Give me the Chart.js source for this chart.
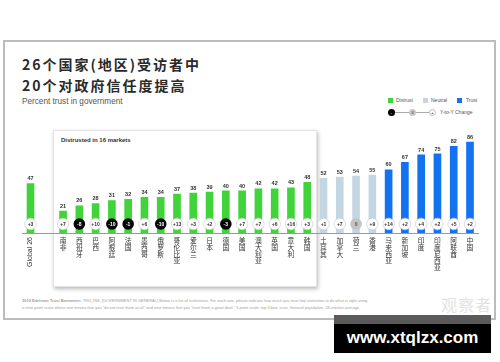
<!DOCTYPE html>
<html><head><meta charset="utf-8">
<script src="https://cdn.jsdelivr.net/npm/chart.js@4"></script>
<style>
html,body{margin:0;padding:0;background:#fff;}
body{width:500px;height:362px;position:relative;overflow:hidden;font-family:"Liberation Sans",Arial,sans-serif;}
.frame{position:absolute;left:3px;top:40px;width:489px;height:276px;border:2px solid #bcbcbc;}
.t1,.t2{position:absolute;left:22px;font-family:"Noto Sans CJK SC";font-weight:bold;font-size:14px;letter-spacing:2px;color:#2a2a2a;line-height:20px;white-space:nowrap;}
.t1{top:54px}.t2{top:75px}
.sub{position:absolute;left:22px;top:96px;font-size:8.2px;color:#555;line-height:11px;white-space:nowrap;}
.inset{position:absolute;left:53px;top:130px;width:262px;height:155px;background:#fff;border:1px solid #e4e4e4;box-shadow:1px 2px 4px rgba(0,0,0,0.28);}
.inset .h{position:absolute;left:7px;top:6px;font-size:6px;font-weight:bold;color:#333;white-space:nowrap;}
canvas{position:absolute;left:0;top:0;}
.small{position:absolute;transform:scale(0.5);transform-origin:0 0;white-space:nowrap;}
.lg{font-size:10px;color:#555;line-height:12px;}
.sq{position:absolute;width:5px;height:5px;}
.circ{position:absolute;width:7px;height:7px;border-radius:50%;box-sizing:border-box;}
.circ span{position:absolute;left:0;top:0;width:14px;height:14px;line-height:14px;text-align:center;font-size:8px;font-weight:bold;transform:scale(0.5);transform-origin:0 0;}
.ln{position:absolute;height:1px;background:#aaa;top:112px;}
.foot{font-size:8px;color:#a0a0a0;line-height:10px;}
.wm{position:absolute;left:441px;top:293px;font-family:"Noto Sans CJK SC";font-size:16px;color:#e2e2e2;letter-spacing:1px;line-height:22px;}
.bk1{position:absolute;left:334px;top:315px;width:157px;height:9px;background:#5a5a5a;}
.bk2{position:absolute;left:334px;top:324px;width:157px;height:29px;background:#000;color:#fff;font-weight:bold;font-size:17px;line-height:27px;text-align:center;}
</style></head>
<body>
<div class="frame"></div>
<div class="t1">26个国家(地区)受访者中</div>
<div class="t2">20个对政府信任度提高</div>
<div class="sub">Percent trust in government</div>

<div class="sq" style="left:388px;top:97.5px;background:#40d33a"></div>
<div class="small lg" style="left:396px;top:97px">Distrust</div>
<div class="sq" style="left:423px;top:97.5px;background:#c3d6e1"></div>
<div class="small lg" style="left:431px;top:97px">Neutral</div>
<div class="sq" style="left:457px;top:97.5px;background:#1272f2"></div>
<div class="small lg" style="left:466px;top:97px">Trust</div>

<div class="ln" style="left:395px;width:14px"></div>
<div class="ln" style="left:415px;width:14px"></div>
<div class="circ" style="left:388px;top:108.5px;background:#000"><span style="color:#fff">-</span></div>
<div class="circ" style="left:408.5px;top:108.5px;background:#c8c8c8"><span style="color:#666">0</span></div>
<div class="circ" style="left:428.5px;top:108.5px;background:#fff;border:0.6px solid #bbb"><span style="color:#444;left:-0.6px;top:-0.6px">+</span></div>
<div class="small lg" style="left:440px;top:109px">Y-to-Y Change</div>

<div class="inset"><div class="h">Distrusted in 16 markets</div></div>

<div class="small foot" style="left:22px;top:298px"><b>2019 Edelman Trust Barometer.</b> TRU_INS. [GOVERNMENT IN GENERAL] Below is a list of institutions. For each one, please indicate how much you trust that institution to do what is right using</div>
<div class="small foot" style="left:22px;top:305px">a nine-point scale where one means that you “do not trust them at all” and nine means that you “trust them a great deal.” 9-point scale; top 4 box, trust. General population, 26-market average.</div>
<div class="wm">观察者</div>

<canvas id="c" width="500" height="362"></canvas>

<div class="bk1"></div>
<div class="bk2">www.xtqlzx.com</div>

<script>
const categories = ['Global 26', '', '南非', '西班牙', '巴西', '阿根廷', '法国', '墨西哥', '俄罗斯', '哥伦比亚', '爱尔兰', '日本', '德国', '美国', '澳大利亚', '英国', '意大利', '韩国', '土耳其', '加拿大', '荷兰', '香港', '马来西亚', '新加坡', '印度', '印度尼西亚', '阿联酋', '中国'];
const trustValues = [47, null, 21, 26, 28, 31, 32, 34, 34, 37, 38, 39, 40, 40, 42, 42, 43, 48, 52, 53, 54, 55, 60, 67, 74, 75, 82, 86];
const yoyChange = [3, null, 7, -8, 10, -10, -1, 6, -10, 13, 3, 2, -3, 7, 7, 6, 16, 3, 1, 7, 0, 9, 14, 2, 4, 2, 5, 2];

const COLORS = {distrust:'#40d33a', neutral:'#c3d6e1', trust:'#1272f2'};
function barColor(v){ if (v == null) return 'rgba(0,0,0,0)'; return v < 50 ? COLORS.distrust : (v < 60 ? COLORS.neutral : COLORS.trust); }
const stackedLabels = categories.map((s, i) => i < 2 ? '' : Array.from(s));

const overlay = {
  id: 'overlay',
  afterDatasetsDraw(chart){
    const ctx = chart.ctx;
    const meta = chart.getDatasetMeta(0);
    meta.data.forEach((bar, i) => {
      const v = trustValues[i];
      if (v == null) return;
      ctx.save();
      ctx.font = 'bold 5.5px "Liberation Sans"';
      ctx.fillStyle = '#333';
      ctx.textAlign = 'center';
      ctx.textBaseline = 'alphabetic';
      ctx.fillText(String(v), bar.x, bar.y - 3);
      const c = yoyChange[i];
      const cy = bar.base - 9;
      ctx.beginPath();
      ctx.arc(bar.x, cy, 5.8, 0, Math.PI * 2);
      let fill = '#fff', txt = '#333';
      if (c < 0) { fill = '#050505'; txt = '#fff'; }
      else if (c === 0) { fill = '#c4c4c4'; txt = '#555'; }
      ctx.fillStyle = fill;
      ctx.fill();
      if (c > 0) { ctx.lineWidth = 0.7; ctx.strokeStyle = '#d0d0d0'; ctx.stroke(); }
      ctx.fillStyle = txt;
      ctx.font = 'bold 5px "Liberation Sans"';
      ctx.textBaseline = 'middle';
      ctx.fillText(c > 0 ? '+' + c : String(c), bar.x, cy + 0.3);
      ctx.restore();
    });
    const x = chart.scales.x.getPixelForValue(0);
    ctx.save();
    ctx.translate(x, chart.chartArea.bottom + 4);
    ctx.rotate(-Math.PI / 2);
    ctx.textAlign = 'right';
    ctx.textBaseline = 'middle';
    ctx.font = '7px "Liberation Sans"';
    ctx.fillStyle = '#333';
    ctx.fillText(categories[0], 0, 0);
    ctx.restore();
  }
};

new Chart(document.getElementById('c'), {
  type: 'bar',
  data: {
    labels: stackedLabels,
    datasets: [{
      data: trustValues,
      backgroundColor: trustValues.map(barColor),
      borderWidth: 0,
      barPercentage: 0.47,
      categoryPercentage: 1
    }]
  },
  options: {
    responsive: false,
    devicePixelRatio: 1,
    animation: false,
    layout: { padding: { left: 22.36, right: 21.86, top: 127, bottom: 0 } },
    plugins: { legend: { display: false }, tooltip: { enabled: false }, title: { display: false } },
    scales: {
      x: {
        type: 'category',
        offset: true,
        grid: { display: false, drawTicks: false },
        border: { display: true, color: '#9a9a9a', width: 1 },
        ticks: {
          autoSkip: false, maxRotation: 0, minRotation: 0, padding: 4,
          color: '#333',
          font: { family: '"Noto Sans CJK SC"', size: 6.8, lineHeight: 1.0 }
        },
        afterFit: (scale) => { scale.height = 129; }
      },
      y: { display: false, min: 0, max: 100 }
    }
  },
  plugins: [overlay]
});
</script>
</body></html>
